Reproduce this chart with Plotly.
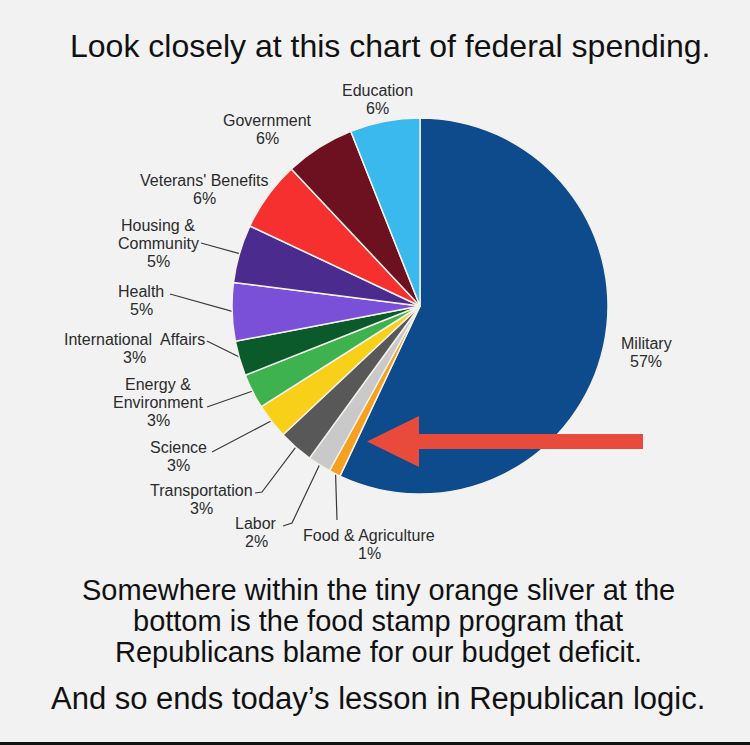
import math
import plotly.graph_objects as go

# ---- data ----
categories = ["Military", "Food & Agriculture", "Labor", "Transportation", "Science",
              "Energy & Environment", "International Affairs", "Health",
              "Housing & Community", "Veterans' Benefits", "Government", "Education"]
shares = [57, 1, 2, 3, 3, 3, 3, 5, 5, 6, 6, 6]
label_text = ["Military<br>57%", "Food & Agriculture<br>1%", "Labor<br>2%",
              "Transportation<br>3%", "Science<br>3%", "Energy &<br>Environment<br>3%",
              "International  Affairs<br>3%", "Health<br>5%", "Housing &<br>Community<br>5%",
              "Veterans' Benefits<br>6%", "Government<br>6%", "Education<br>6%"]
colors = ["#0d4b8c", "#f6a020", "#c9c9c9", "#585858", "#f8d01a", "#3db24f",
          "#0a5a2b", "#7a50d8", "#4b2c8e", "#f5302f", "#6d1020", "#3ab9ee"]

# ---- layout geometry (pixels) ----
W, H = 750, 745
CX, CY, R = 420, 306, 188
BG = "#f2f2f3"
LINE_STEP = 18

# label: centre x, centre y of first line
label_pos = {
    "Military": (646, 343),
    "Food & Agriculture": (369, 535),
    "Labor": (256, 523),
    "Transportation": (201, 490),
    "Science": (178, 447),
    "Energy & Environment": (158, 384),
    "International Affairs": (134, 339),
    "Health": (141, 291),
    "Housing & Community": (158, 225),
    "Veterans' Benefits": (204, 180),
    "Government": (267, 120),
    "Education": (377, 90),
}
# leader line start points (near text), optional elbow
leader_start = {
    "Food & Agriculture": [(337, 520)],
    "Labor": [(283, 526), (292, 523)],
    "Transportation": [(255, 493), (262, 492)],
    "Science": [(212, 452)],
    "Energy & Environment": [(207, 407)],
    "International Affairs": [(207, 341)],
    "Health": [(170, 294)],
    "Housing & Community": [(201, 243)],
}

fig = go.Figure()

fig.add_trace(go.Pie(
    labels=categories, values=shares, sort=False, direction="clockwise", rotation=0,
    marker=dict(colors=colors, line=dict(color="#f4f1ea", width=1.5)),
    textinfo="none", hoverinfo="skip", showlegend=False,
    domain=dict(x=[(CX - R) / W, (CX + R) / W], y=[1 - (CY + R) / H, 1 - (CY - R) / H]),
))

# leader lines: end point computed from slice mid-angle
total = sum(shares)
cum = 0
for cat, v in zip(categories, shares):
    mid = (cum + v / 2) / total * 2 * math.pi
    cum += v
    if cat not in leader_start:
        continue
    ex = CX + R * 0.99 * math.sin(mid)
    ey = CY - R * 0.99 * math.cos(mid)
    pts = leader_start[cat] + [(ex, ey)]
    fig.add_trace(go.Scatter(
        x=[p[0] for p in pts], y=[p[1] for p in pts], mode="lines",
        line=dict(color="#3a3a3a", width=1.2), hoverinfo="skip", showlegend=False,
        xaxis="x", yaxis="y"))

anns = []
for cat, txt in zip(categories, label_text):
    x, y = label_pos[cat]
    for i, part in enumerate(txt.split("<br>")):
        anns.append(dict(x=x, y=y + i * LINE_STEP, xref="x", yref="y", text=part,
                         showarrow=False, xanchor="center", yanchor="middle",
                         font=dict(family="Liberation Sans, Arial", size=16, color="#2b2b2b")))

text_lines = [
    ("Look closely at this chart of federal spending.", 390, 46, 32),
    ("Somewhere within the tiny orange sliver at the", 378, 590, 29),
    ("bottom is the food stamp program that", 378, 621, 29),
    ("Republicans blame for our budget deficit.", 378, 652, 29),
    ("And so ends today\u2019s lesson in Republican logic.", 378, 698, 31),
]
for txt, x, y, s in text_lines:
    anns.append(dict(x=x, y=y, xref="x", yref="y", text=txt, showarrow=False,
                     xanchor="center", yanchor="middle",
                     font=dict(family="Liberation Sans, Arial", size=s, color="#111111")))

shapes = [
    dict(type="path", xref="x", yref="y",
         path="M 643 434 L 419 434 L 419 416 L 367 441.5 L 419 467 L 419 449 L 643 449 Z",
         fillcolor="#e84b3c", line=dict(width=0)),
    dict(type="rect", xref="x", yref="y", x0=0, x1=750, y0=742, y1=746,
         fillcolor="#111111", line=dict(width=0)),
]

fig.update_layout(
    width=W, height=H, margin=dict(l=0, r=0, t=0, b=0),
    paper_bgcolor=BG, plot_bgcolor="rgba(0,0,0,0)",
    xaxis=dict(range=[0, W], visible=False, domain=[0, 1], fixedrange=True),
    yaxis=dict(range=[H, 0], visible=False, domain=[0, 1], fixedrange=True),
    annotations=anns, shapes=shapes,
)

fig.write_html(
    "out.html",
    config={"displayModeBar": False},
    post_script="document.body.style.margin='0';document.body.style.padding='0';"
                "document.body.style.overflow='hidden';"
                "document.body.style.background='" + BG + "';",
)
